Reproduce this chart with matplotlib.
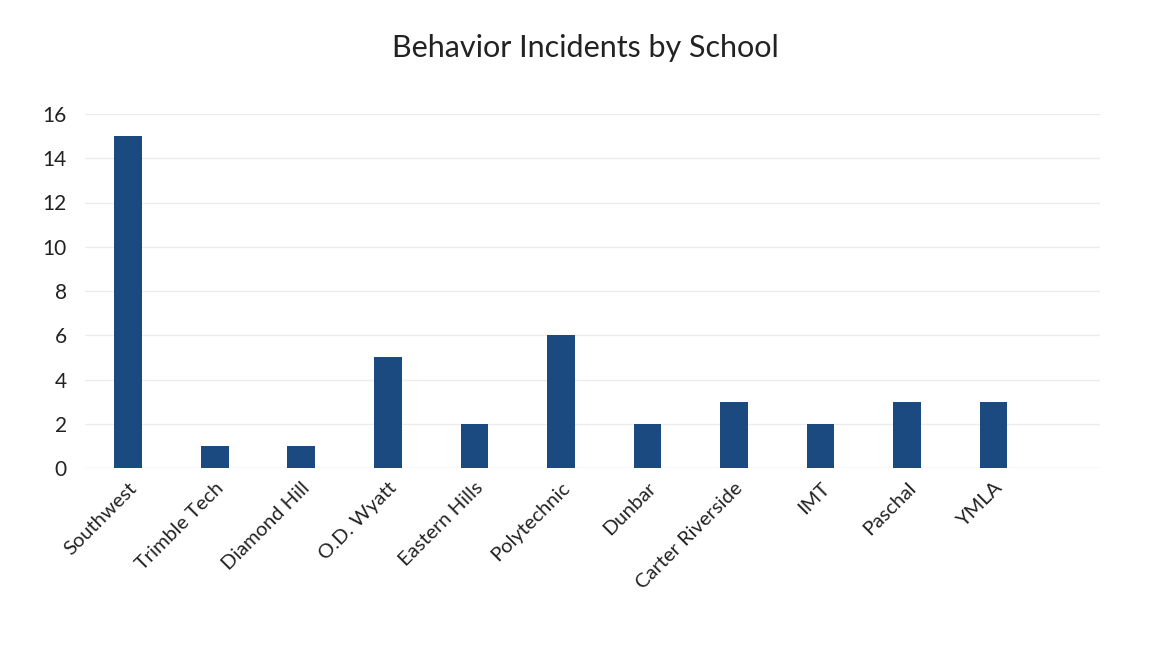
import matplotlib
matplotlib.use("Agg")
import matplotlib.pyplot as plt

schools = ["Southwest", "Trimble Tech", "Diamond Hill", "O.D. Wyatt", "Eastern Hills",
           "Polytechnic", "Dunbar", "Carter Riverside", "IMT", "Paschal", "YMLA"]
incidents = [15, 1, 1, 5, 2, 6, 2, 3, 2, 3, 3]
yticks = [0, 2, 4, 6, 8, 10, 12, 14, 16]

plt.rcParams['font.family'] = ['Lato', 'DejaVu Sans']

fig = plt.figure(figsize=(11.57, 6.55), dpi=100)
ax = fig.add_axes([85/1157, 1 - 468/655, (1100 - 85)/1157, (468 - 114)/655])

x = list(range(len(schools)))
ax.bar(x, incidents, width=0.32, color="#1b4a80", zorder=3)
ax.set_xlim(-0.5, 11.23)
ax.set_ylim(0, 16)
ax.set_yticks(yticks)
ax.set_yticklabels([str(v) for v in yticks], fontsize=15, color="#222222")
ax.set_xticks(x)
ax.set_xticklabels(schools, rotation=45, ha="right", rotation_mode="anchor",
                   fontsize=14.5, color="#222222")
ax.tick_params(axis="both", length=0)
ax.tick_params(axis="y", pad=13)
ax.tick_params(axis="x", pad=8)
ax.grid(axis="y", color="#ececec", linewidth=1, zorder=0)
for s in ax.spines.values():
    s.set_visible(False)
ax.axhline(0, color="#e6e6e6", linewidth=1, zorder=1)

fig.text(585/1157, 1 - 48/655, "Behavior Incidents by School", ha="center", va="center",
         fontsize=22, color="#222222")

fig.savefig("out.png", dpi=100, facecolor="white")
